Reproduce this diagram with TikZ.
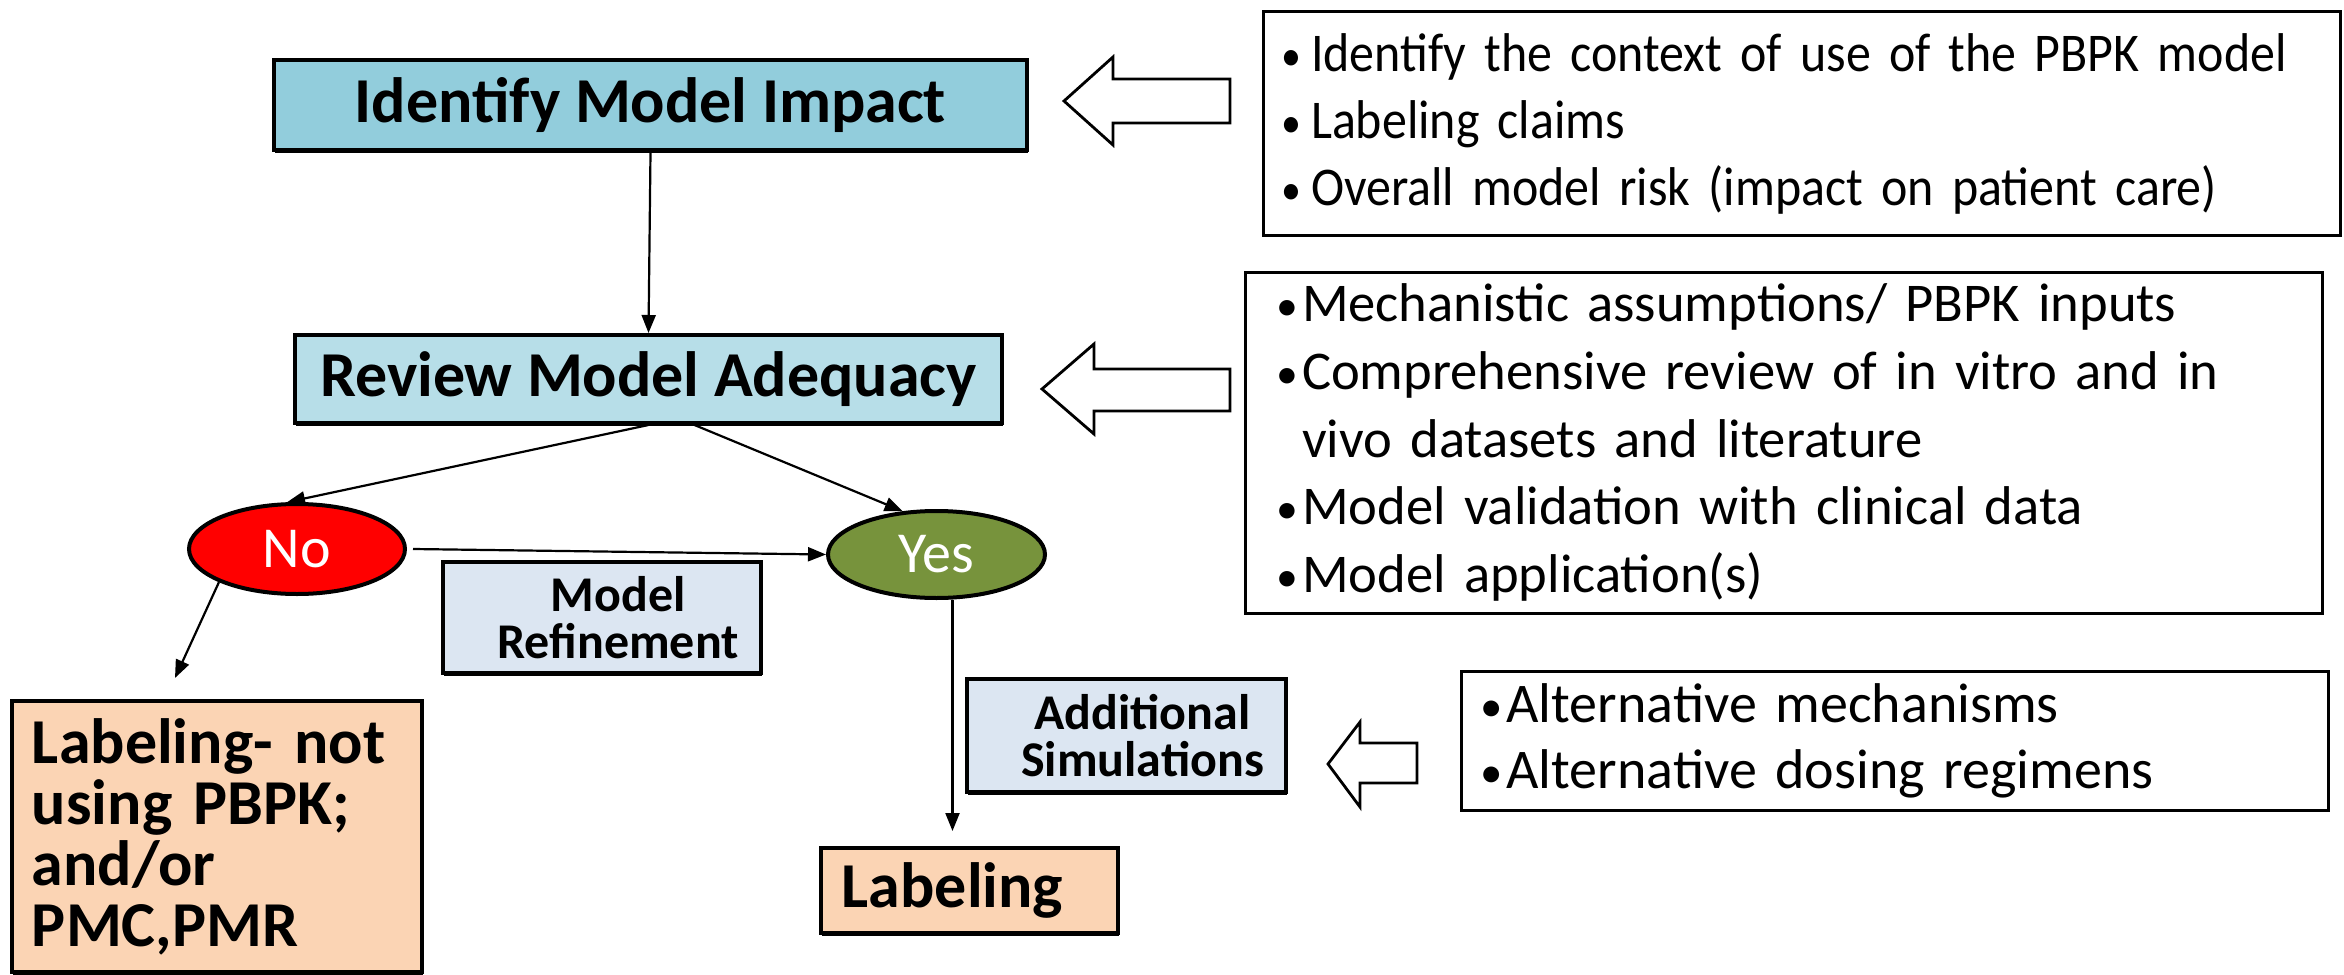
\documentclass[tikz,border=0pt]{standalone}
\usepackage{fontspec}
\setmainfont{Carlito}
\newfontfamily\narrowfont[FakeStretch=0.915]{Carlito}
\usetikzlibrary{arrows.meta,calc,shadows,shapes.geometric}
\definecolor{aquaA}{HTML}{92CDDC}
\definecolor{aquaB}{HTML}{B7DEE8}
\definecolor{paleblue}{HTML}{DCE6F2}
\definecolor{peach}{HTML}{FBD4B4}
\definecolor{myolive}{HTML}{77933C}
\newcommand{\bul}{\makebox[13pt][l]{\raisebox{0.5pt}{\scalebox{0.8}{\textbullet}}}}
\newcommand{\bulw}{\makebox[15pt][l]{\raisebox{0.5pt}{\scalebox{0.8}{\textbullet}}}}
\tikzset{
  headbox/.style={draw=black, line width=2pt, inner sep=0pt,
    font=\bfseries\fontsize{32}{38}\selectfont,
    drop shadow={shadow xshift=0.5pt, shadow yshift=-1.3pt, fill=black, opacity=1}},
  smallbox/.style={draw=black, line width=2pt, inner sep=0pt, fill=paleblue, align=center,
    font=\bfseries\fontsize{25}{23.5}\selectfont,
    drop shadow={shadow xshift=0.5pt, shadow yshift=-1.3pt, fill=black, opacity=1}},
  oval/.style={ellipse, draw=black, line width=2pt, inner sep=0pt, text=white,
    font=\fontsize{29}{34}\selectfont},
  bulbox/.style={draw=black, line width=1.5pt, fill=white, inner ysep=0pt, align=left},
  hollow/.style={draw=black, line width=1.4pt, fill=white, line join=miter},
  conn/.style={line width=1.1pt, -{Triangle[length=9pt,width=7pt]}},
}
\begin{document}
\begin{tikzpicture}[x=0.5pt,y=-0.5pt]
\useasboundingbox (0,0) rectangle (2344,974);

% main flow
\node[headbox, fill=aquaA, minimum width=376.5pt, minimum height=45pt] (imi) at (650.5,105) {Identify Model Impact};
\node[headbox, fill=aquaB, minimum width=353.5pt, minimum height=44pt] (rma) at (648.5,379) {Review Model Adequacy};
\node[oval, fill=red, minimum width=108pt, minimum height=45pt] (no) at (297,549) {No};
\node[oval, fill=myolive, minimum width=108.5pt, minimum height=43.5pt] (yes) at (936.5,554.5) {Yes};
\node[smallbox, minimum width=159pt, minimum height=55.5pt] (mref) at (602,617.5)
  {\hspace*{16pt}Model\\\hspace*{16pt}Refinement};
\node[smallbox, minimum width=159.5pt, minimum height=56.5pt] (asim) at (1126.5,735.5)
  {\hspace*{16pt}Additional\\\hspace*{16pt}Simulations};
\node[headbox, fill=peach, minimum height=135.5pt, text width=185pt, inner xsep=10pt, align=left,
      font=\bfseries\fontsize{32}{30.5}\selectfont] (lnot) at (217,836.5)
      {Labeling- not\\using PBPK;\\and/or\\PMC,PMR};
\node[headbox, fill=peach, minimum width=148.5pt, minimum height=42.5pt] (lab) at (969.5,890.5)
  {Labeling\hspace{17pt}\null};

% bullet boxes
\node[bulbox, minimum height=111.5pt, text width=520.5pt, inner xsep=9pt,
      font=\narrowfont\fontsize{27.3}{33.5}\selectfont] (b1) at (1801.5,123.5)
  {\bulw Identify the context of use of the PBPK model\\
   \bulw Labeling claims\\
   \bulw Overall model risk (impact on patient care)};
\node[bulbox, minimum height=170.5pt, text width=507.5pt, inner xsep=15.5pt,
      font=\fontsize{27.3}{33.9}\selectfont] (b2) at (1783.5,442.5)
  {\bul Mechanistic assumptions/ PBPK inputs\\
   \bul Comprehensive review of in vitro and in\\
   \hspace*{13pt}vivo datasets and literature\\
   \bul Model validation with clinical data\\
   \bul Model application(s)};
\node[bulbox, minimum height=69.5pt, text width=414pt, inner xsep=9.75pt,
      font=\fontsize{28}{33}\selectfont] (b3) at (1894.5,740.5)
  {\bul Alternative mechanisms\\
   \bul Alternative dosing regimens};

% hollow block arrows
\draw[hollow] (1064,101) -- (1113,57) -- (1113,79) -- (1230,79) -- (1230,123) -- (1113,123) -- (1113,145) -- cycle;
\draw[hollow] (1042,389) -- (1094,344) -- (1094,369) -- (1230,369) -- (1230,411) -- (1094,411) -- (1094,434) -- cycle;
\draw[hollow] (1328,764) -- (1360,722) -- (1360,743) -- (1417,743) -- (1417,783) -- (1360,783) -- (1360,807) -- cycle;

% connectors
\draw[conn] (imi.south) -- (rma.north);
\draw[conn] (rma.south) -- (no.102);
\draw[conn] ([xshift=23pt]rma.south) -- (yes.128);
\draw[conn] ([xshift=3pt]no.east) -- (yes.west);
\coordinate (lnotend) at ($(lnot.north)+(-42,-21)$);
\draw[conn] (no.203) -- (lnotend);
\coordinate (yesout) at ($(yes.south)+(16,0)$);
\coordinate (labin) at ($(yesout |- lab.north)+(0,-15)$);
\draw[conn] (yesout) -- (labin);
\end{tikzpicture}
\end{document}
